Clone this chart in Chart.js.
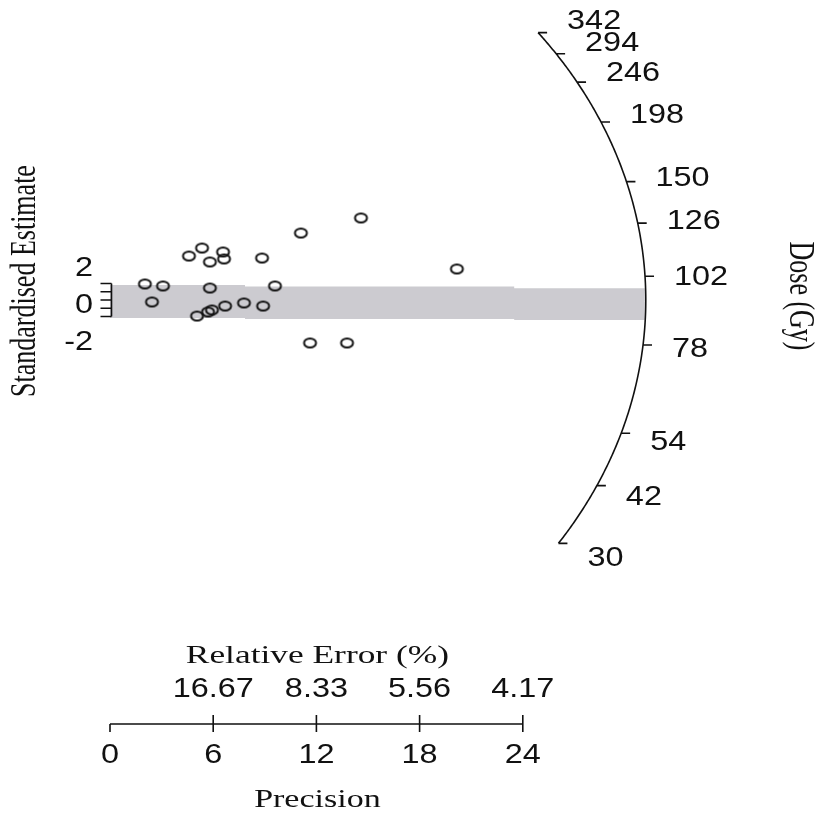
<!DOCTYPE html>
<html>
<head>
<meta charset="utf-8">
<script src="https://cdn.jsdelivr.net/npm/chart.js@4.4.1/dist/chart.umd.min.js"></script>
<style>
  html, body { margin: 0; padding: 0; background: #fff; }
</style>
</head>
<body>
<canvas id="radial" width="824" height="814"></canvas>
<script>
// precision (1/se) and standardised estimate for each aliquot
const precision = [2.03, 3.08, 2.44, 4.59, 5.35, 5.81, 6.57, 6.63, 5.81, 5.06, 5.70,
  5.93, 6.69, 7.79, 8.90, 8.84, 9.59, 11.10, 14.59, 20.17, 11.63, 13.78];
const standardised = [1.94, 1.70, -0.24, 5.33, 6.30, 4.61, 5.82, 4.97, 1.45, -1.94, -1.45,
  -1.21, -0.73, -0.36, -0.73, 5.09, 1.70, 8.12, 9.94, 3.76, -5.21, -5.21];

// grey 2-sigma band
const bandPrecision = [0, 7.85, 23.5, 31.1];
const bandUpper = [1.82, 1.64, 1.42, 1.42];
const bandLower = [-2.18, -2.30, -2.42, -2.42];

// axes
const precisionTicks = [0, 6, 12, 18, 24];
const relErrorTicks = [6, 12, 18, 24];
const relErrorLabels = ["16.67", "8.33", "5.56", "4.17"];
const zTicks = [-2, -1, 0, 1, 2];
const zLabels = [2, 0, -2];
const doseTicks = [30, 42, 54, 78, 102, 126, 150, 198, 246, 294, 342];
const centralDose = 93;

const SERIF = '26px "Liberation Serif"';
const SANS = '27px "Liberation Sans"';
const STRETCH = 1.36;
const NUM_STRETCH = 1.2;

function label(ctx, txt, x, y, o) {
  ctx.save();
  ctx.translate(x, y);
  ctx.scale(o.sx || 1, 1);
  if (o.rot) ctx.rotate(o.rot);
  ctx.font = o.font;
  ctx.textAlign = o.align || "center";
  ctx.textBaseline = o.base || "alphabetic";
  ctx.fillText(txt, 0, 0);
  ctx.restore();
}

// open circle marker (picture is wider than tall)
const ring = document.createElement("canvas");
ring.width = 17;
ring.height = 13;
const rc = ring.getContext("2d");
rc.strokeStyle = "#111";
rc.lineWidth = 2;
rc.beginPath();
rc.ellipse(8.5, 6.5, 6, 4.5, 0, 0, 2 * Math.PI);
rc.stroke();

const radialAxes = {
  id: "radialAxes",
  afterDraw(chart) {
    const ctx = chart.ctx;
    const X = (v) => chart.scales.x.getPixelForValue(v);
    const Y = (v) => chart.scales.y.getPixelForValue(v);
    ctx.save();
    ctx.strokeStyle = "#111";
    ctx.fillStyle = "#111";
    ctx.lineWidth = 1.6;

    // precision / relative error axis
    const axisY = 724;
    ctx.beginPath();
    ctx.moveTo(X(precisionTicks[0]), axisY);
    ctx.lineTo(X(precisionTicks[precisionTicks.length - 1]), axisY);
    precisionTicks.forEach((t) => { ctx.moveTo(X(t), axisY); ctx.lineTo(X(t), axisY + 8); });
    relErrorTicks.forEach((t) => { ctx.moveTo(X(t), axisY); ctx.lineTo(X(t), axisY - 9); });
    ctx.stroke();
    precisionTicks.forEach((t) => label(ctx, String(t), X(t), 763, { font: SANS, sx: NUM_STRETCH }));
    relErrorTicks.forEach((t, i) =>
      label(ctx, relErrorLabels[i], X(t), 697, { font: SANS, sx: NUM_STRETCH }));
    const mid = (X(0) + X(24)) / 2 + 1;
    label(ctx, "Relative Error (%)", mid, 663, { font: SERIF, sx: STRETCH });
    label(ctx, "Precision", mid, 807, { font: '25px "Liberation Serif"', sx: STRETCH });

    // standardised estimate bracket
    const zx = X(0) + 1.5;
    ctx.beginPath();
    ctx.moveTo(zx, Y(zTicks[0]));
    ctx.lineTo(zx, Y(zTicks[zTicks.length - 1]));
    zTicks.forEach((t) => { ctx.moveTo(zx, Y(t)); ctx.lineTo(zx - 11, Y(t)); });
    ctx.stroke();
    zLabels.forEach((t) => {
      const yy = Y(0) + (Y(t) - Y(0)) * 2.23 + 3 + 10;
      label(ctx, String(t), 93, yy, { font: SANS, sx: NUM_STRETCH, align: "right" });
    });
    label(ctx, "Standardised Estimate", 26, 281,
      { font: SERIF, sx: STRETCH, rot: -Math.PI / 2, base: "middle" });

    // dose arc
    const a = 31.15, b = 53.9;
    const onArc = (d) => {
      const s = Math.log(d / centralDose);
      const x = 1 / Math.sqrt(1 / (a * a) + (s * s) / (b * b));
      return [X(x), Y(s * x)];
    };
    const lo = Math.log(doseTicks[0]);
    const hi = Math.log(doseTicks[doseTicks.length - 1]);
    ctx.beginPath();
    for (let i = 0; i <= 240; i++) {
      const p = onArc(Math.exp(lo + ((hi - lo) * i) / 240));
      if (i) ctx.lineTo(p[0], p[1]); else ctx.moveTo(p[0], p[1]);
    }
    doseTicks.forEach((d) => {
      const p = onArc(d);
      ctx.moveTo(p[0], p[1]);
      ctx.lineTo(p[0] + 9, p[1]);
    });
    ctx.stroke();
    doseTicks.forEach((d) => {
      const p = onArc(d);
      label(ctx, String(d), p[0] + 29, p[1] + (p[1] - Y(0)) * 0.05 + 10,
        { font: SANS, sx: NUM_STRETCH, align: "left" });
    });
    label(ctx, "Dose (Gy)", 799, 296,
      { font: SERIF, sx: STRETCH, rot: Math.PI / 2, base: "middle" });

    ctx.restore();
  },
};

new Chart(document.getElementById("radial"), {
  type: "line",
  data: {
    datasets: [
      {
        data: bandPrecision.map((x, i) => ({ x: x, y: bandUpper[i] })),
        stepped: true,
        borderWidth: 0,
        borderColor: "transparent",
        pointRadius: 0,
        fill: false,
        order: 1,
      },
      {
        data: bandPrecision.map((x, i) => ({ x: x, y: bandLower[i] })),
        stepped: true,
        borderWidth: 0,
        borderColor: "transparent",
        backgroundColor: "rgb(204, 203, 208)",
        pointRadius: 0,
        fill: "-1",
        order: 1,
      },
      {
        data: precision.map((x, i) => ({ x: x, y: standardised[i] })),
        showLine: false,
        pointStyle: ring,
        pointRadius: 6,
        clip: false,
        order: 0,
      },
    ],
  },
  options: {
    responsive: false,
    animation: false,
    layout: { autoPadding: false, padding: { left: 110, right: 26, top: 3, bottom: 2.5 } },
    scales: {
      x: { type: "linear", min: 0, max: 40, display: false },
      y: { type: "linear", min: -62, max: 36, display: false },
    },
    plugins: { legend: { display: false }, tooltip: { enabled: false } },
  },
  plugins: [radialAxes],
});
</script>
</body>
</html>
